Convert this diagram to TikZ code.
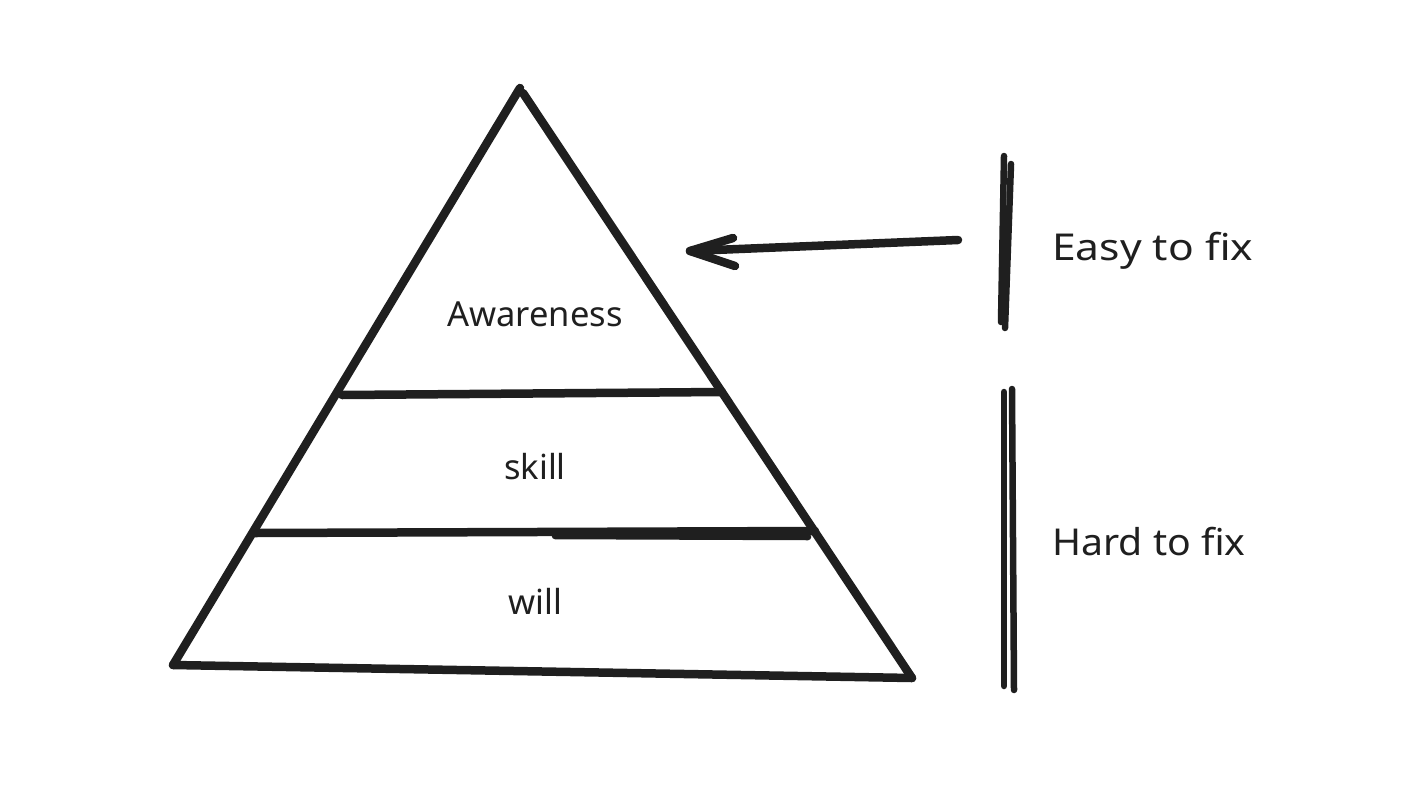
\documentclass[tikz,border=0pt]{standalone}
\usepackage{fontspec}
\setmainfont{Noto Sans}
\newfontfamily\sidefont[FakeStretch=1.15]{Noto Sans}
\newfontfamily\hardfont[FakeStretch=1.06]{Noto Sans}
\begin{document}
\begin{tikzpicture}[x=1pt,y=-1pt,
  stroke/.style={line width=8.5pt,line cap=round,line join=round,color=black!88},
  thin stroke/.style={line width=6.5pt,line cap=round,color=black!88},
  lbl/.style={font=\fontsize{34.5}{38}\selectfont,color=black!88,inner sep=0pt},
  side/.style={font=\fontsize{37}{40}\selectfont,color=black!88,inner sep=0pt,anchor=west}]
\useasboundingbox (0,0) rectangle (1418,790);
% pyramid corners
\coordinate (apex) at (520,88);
\coordinate (apex2) at (523,93);
\coordinate (bl) at (173,665);
\coordinate (br) at (912,678);
\coordinate (l1a) at (342,395);
\coordinate (l1b) at (722,392);
\coordinate (l2a) at (255,533);
\coordinate (l2b) at (815,531);
\coordinate (l2c) at (555,536);
\coordinate (l2d) at (808,537);
\draw[stroke] (apex) -- (bl);
\draw[stroke] (apex2) -- (br);
\draw[stroke] (bl) -- (br);
\draw[stroke] (l1a) -- (l1b);
\draw[stroke] (l2a) -- (l2b);
\draw[thin stroke] (l2c) -- (l2d);
% labels
\node[lbl] (aw) at (535,314) {Awareness};
\node[lbl] (sk) at (535,467) {skill};
\node[lbl] (wi) at (535,601) {will};
% arrow
\coordinate (atail) at (958,240);
\coordinate (ahead) at (690,251);
\coordinate (barb1) at (733,238);
\coordinate (barb2) at (735,266);
\draw[stroke] (atail) -- (ahead);
\draw[stroke] (barb1) -- (ahead) -- (barb2);
% easy bars
\coordinate (e1a) at (1004,156);
\coordinate (e1b) at (1001,322);
\coordinate (e2a) at (1011,164);
\coordinate (e2b) at (1005,328);
\draw[thin stroke] (e1a) -- (e1b);
\draw[thin stroke] (e2a) -- (e2b);
% hard bars
\coordinate (h1a) at (1004,392);
\coordinate (h1b) at (1004,686);
\coordinate (h2a) at (1012,389);
\coordinate (h2b) at (1014,690);
\draw[thin stroke] (h1a) -- (h1b);
\draw[thin stroke] (h2a) -- (h2b);
% side labels
\node[side] (easy) at (1052,251) {\sidefont Easy to fix};
\node[side] (hard) at (1052,542) {\hardfont Hard to fix};
\end{tikzpicture}
\end{document}
